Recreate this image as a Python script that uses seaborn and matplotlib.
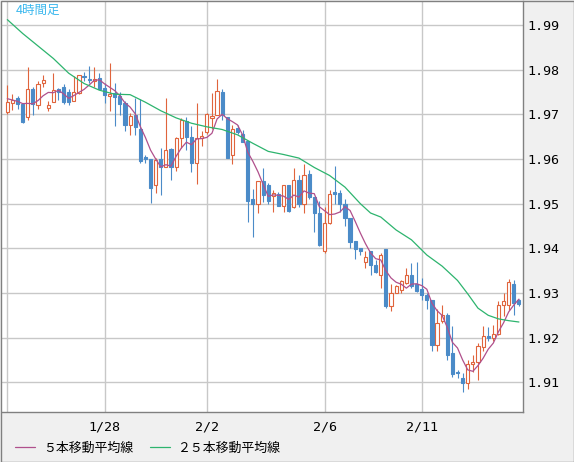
import numpy as np
import pandas as pd
import matplotlib
matplotlib.use("Agg")
import matplotlib.pyplot as plt
import seaborn as sns
from matplotlib.patches import Rectangle

# 4h candles (index 0..100)
opens = [1.9705, 1.9726, 1.9737, 1.9724, 1.9694, 1.9757, 1.9720, 1.9771, 1.9714, 1.9728,
         1.9756, 1.9762, 1.9750, 1.9729, 1.9748, 1.9786, 1.9780, 1.9774, 1.9782, 1.9758,
         1.9740, 1.9748, 1.9741, 1.9726, 1.9677, 1.9699, 1.9667, 1.9604, 1.9599, 1.9541,
         1.9599, 1.9583, 1.9623, 1.9581, 1.9647, 1.9686, 1.9650, 1.9592, 1.9647, 1.9660,
         1.9692, 1.9699, 1.9751, 1.9695, 1.9610, 1.9670, 1.9655, 1.9640, 1.9510, 1.9500,
         1.9550, 1.9541, 1.9517, 1.9522, 1.9495, 1.9541, 1.9493, 1.9554, 1.9500, 1.9567,
         1.9515, 1.9478, 1.9393, 1.9456, 1.9527, 1.9524, 1.9500, 1.9467, 1.9416, 1.9400,
         1.9370, 1.9393, 1.9363, 1.9341, 1.9399, 1.9271, 1.9301, 1.9306, 1.9322, 1.9341,
         1.9320, 1.9309, 1.9296, 1.9284, 1.9184, 1.9237, 1.9251, 1.9165, 1.9124, 1.9109,
         1.9099, 1.9140, 1.9145, 1.9179, 1.9203, 1.9200, 1.9209, 1.9272, 1.9274, 1.9321,
         1.9285]
highs = [1.9765, 1.9746, 1.9740, 1.9724, 1.9805, 1.9762, 1.9774, 1.9789, 1.9729, 1.9793,
         1.9759, 1.9767, 1.9756, 1.9786, 1.9789, 1.9795, 1.9808, 1.9805, 1.9793, 1.9770,
         1.9814, 1.9770, 1.9750, 1.9729, 1.9703, 1.9737, 1.9735, 1.9609, 1.9599, 1.9602,
         1.9624, 1.9737, 1.9624, 1.9650, 1.9692, 1.9695, 1.9673, 1.9726, 1.9662, 1.9703,
         1.9748, 1.9779, 1.9757, 1.9695, 1.9675, 1.9675, 1.9665, 1.9640, 1.9532, 1.9550,
         1.9579, 1.9547, 1.9530, 1.9526, 1.9541, 1.9541, 1.9579, 1.9564, 1.9588, 1.9575,
         1.9515, 1.9507, 1.9493, 1.9530, 1.9585, 1.9530, 1.9511, 1.9467, 1.9416, 1.9400,
         1.9393, 1.9393, 1.9374, 1.9389, 1.9399, 1.9321, 1.9318, 1.9329, 1.9357, 1.9367,
         1.9369, 1.9333, 1.9299, 1.9285, 1.9263, 1.9274, 1.9255, 1.9225, 1.9127, 1.9121,
         1.9150, 1.9160, 1.9188, 1.9226, 1.9224, 1.9228, 1.9281, 1.9300, 1.9331, 1.9330,
         1.9286]
lows = [1.9700, 1.9709, 1.9711, 1.9680, 1.9688, 1.9699, 1.9711, 1.9762, 1.9708, 1.9728,
        1.9733, 1.9723, 1.9720, 1.9729, 1.9746, 1.9774, 1.9771, 1.9762, 1.9756, 1.9725,
        1.9707, 1.9673, 1.9699, 1.9662, 1.9654, 1.9654, 1.9590, 1.9590, 1.9502, 1.9524,
        1.9520, 1.9583, 1.9553, 1.9572, 1.9624, 1.9620, 1.9571, 1.9545, 1.9628, 1.9656,
        1.9666, 1.9699, 1.9687, 1.9603, 1.9588, 1.9657, 1.9639, 1.9460, 1.9425, 1.9480,
        1.9504, 1.9500, 1.9481, 1.9495, 1.9481, 1.9481, 1.9490, 1.9493, 1.9478, 1.9510,
        1.9436, 1.9405, 1.9390, 1.9454, 1.9500, 1.9481, 1.9450, 1.9400, 1.9376, 1.9385,
        1.9356, 1.9341, 1.9344, 1.9311, 1.9267, 1.9259, 1.9299, 1.9301, 1.9319, 1.9311,
        1.9303, 1.9284, 1.9264, 1.9171, 1.9171, 1.9232, 1.9150, 1.9112, 1.9109, 1.9078,
        1.9084, 1.9124, 1.9105, 1.9171, 1.9193, 1.9193, 1.9206, 1.9249, 1.9262, 1.9251,
        1.9270]
closes = [1.9727, 1.9732, 1.9723, 1.9683, 1.9757, 1.9723, 1.9768, 1.9777, 1.9720, 1.9754,
          1.9750, 1.9728, 1.9727, 1.9751, 1.9789, 1.9784, 1.9777, 1.9780, 1.9756, 1.9744,
          1.9746, 1.9739, 1.9722, 1.9677, 1.9697, 1.9671, 1.9596, 1.9599, 1.9536, 1.9598,
          1.9583, 1.9620, 1.9583, 1.9647, 1.9688, 1.9650, 1.9592, 1.9647, 1.9652, 1.9700,
          1.9697, 1.9752, 1.9699, 1.9603, 1.9667, 1.9660, 1.9639, 1.9507, 1.9500, 1.9550,
          1.9520, 1.9505, 1.9523, 1.9495, 1.9541, 1.9483, 1.9554, 1.9500, 1.9565, 1.9515,
          1.9478, 1.9407, 1.9456, 1.9521, 1.9522, 1.9500, 1.9467, 1.9413, 1.9399, 1.9393,
          1.9381, 1.9363, 1.9348, 1.9385, 1.9271, 1.9301, 1.9315, 1.9326, 1.9341, 1.9316,
          1.9305, 1.9295, 1.9285, 1.9184, 1.9233, 1.9251, 1.9161, 1.9118, 1.9121, 1.9099,
          1.9140, 1.9145, 1.9182, 1.9203, 1.9200, 1.9209, 1.9272, 1.9282, 1.9325, 1.9277,
          1.9275]

# first 4 points of the 5-bar average (needs bars before the window)
ma5_head = [1.9735, 1.9732, 1.9729, 1.9724]

# 25-bar average, read at these bars
ma25_at = [0, 3, 6, 9, 12, 15, 18, 21, 24, 27, 30, 33, 36, 39, 42, 45, 48, 51, 54, 57,
           60, 63, 66, 69, 71, 73, 76, 79, 82, 85, 88, 90, 92, 94, 96, 98, 100]
ma25 = [1.9912, 1.9881, 1.9853, 1.9825, 1.9792, 1.9769, 1.9754, 1.9745, 1.9744, 1.9727,
        1.9708, 1.9692, 1.9680, 1.9672, 1.9666, 1.9654, 1.9635, 1.9617, 1.9610, 1.9602,
        1.9581, 1.9563, 1.9537, 1.9500, 1.9479, 1.9470, 1.9441, 1.9419, 1.9385, 1.9360,
        1.9328, 1.9298, 1.9266, 1.9250, 1.9242, 1.9238, 1.9235]

date_ticks = [19, 39, 62, 81]
date_labels = ["1/28", "2/2", "2/6", "2/11"]
price_ticks = [1.91, 1.92, 1.93, 1.94, 1.95, 1.96, 1.97, 1.98, 1.99]

BULL = "#e0643c"
BEAR = "#4b8bc8"
MA5_COL = "#b0508c"
MA25_COL = "#2db46e"
GRID = "#c8c8c8"

df = pd.DataFrame({"open": opens, "high": highs, "low": lows, "close": closes})
df["bar"] = np.arange(len(df))
ma5 = df["close"].rolling(5).mean()
ma5.iloc[:4] = ma5_head
df["ma5"] = ma5
ma25_df = pd.DataFrame({"bar": ma25_at, "ma25": ma25})

sns.set_style("white")
plt.rcParams["font.family"] = ["DejaVu Sans Mono"]
plt.rcParams["text.color"] = "black"

fig = plt.figure(figsize=(5.74, 4.62), dpi=100, facecolor="#f0f0f0")
ax = fig.add_axes([2 / 574, 1 - 412 / 462, 521 / 574, 411 / 462])
ax.set_facecolor("white")

# grid
for p in price_ticks:
    ax.axhline(p, color=GRID, lw=1.0, zorder=0)
for b in [0] + date_ticks:
    ax.axvline(b, color=GRID, lw=1.0, zorder=0)

# candles
up = df["close"] >= df["open"]
for is_up, col, face in [(True, BULL, "white"), (False, BEAR, BEAR)]:
    d = df[up == is_up]
    ax.vlines(d["bar"], d["low"], d["high"], color=col, lw=0.8, zorder=2)
    lo = d[["open", "close"]].min(axis=1)
    hi = d[["open", "close"]].max(axis=1)
    ax.bar(d["bar"], hi - lo, bottom=lo, width=0.62, facecolor=face,
           edgecolor=col, linewidth=0.8, zorder=3)

# moving averages
sns.lineplot(data=df, x="bar", y="ma5", color=MA5_COL, lw=0.9, ax=ax,
             label="５本移動平均線", zorder=4)
sns.lineplot(data=ma25_df, x="bar", y="ma25", color=MA25_COL, lw=0.9, ax=ax,
             label="２５本移動平均線", zorder=4)

ax.set_xlim(-1.04, 100.8)
ax.set_ylim(1.90335, 1.99537)
ax.set_xlabel("")
ax.set_ylabel("")

ax.yaxis.tick_right()
ax.set_yticks(price_ticks)
ax.set_yticklabels([f"{p:.2f}" for p in price_ticks])
ax.set_xticks(date_ticks)
ax.set_xticklabels(date_labels)
ax.tick_params(axis="y", length=0, pad=3, labelsize=9.6, colors="black")
ax.tick_params(axis="x", length=0, pad=6, labelsize=9.6, colors="black")

for side in ["top", "left"]:
    ax.spines[side].set_visible(False)
for side in ["right", "bottom"]:
    ax.spines[side].set_color("#808080")
    ax.spines[side].set_linewidth(1.0)

ax.text(0.026, 0.977, "4時間足", transform=ax.transAxes, ha="left", va="center",
        color="#3cb8ee", fontsize=9, family=["Noto Sans CJK JP", "DejaVu Sans"])

leg = ax.legend(loc="center left", bbox_to_anchor=(15 / 574, 14 / 462),
                bbox_transform=fig.transFigure, ncol=2, frameon=False,
                handlelength=1.55, handletextpad=0.6, columnspacing=1.3,
                borderaxespad=0, borderpad=0,
                prop={"family": ["Noto Sans CJK JP", "DejaVu Sans"], "size": 9.3})
for t in leg.get_texts():
    t.set_color("black")

# outer frame
fig.add_artist(Rectangle((0.5 / 574, 0.5 / 462), 573 / 574, 461 / 462,
                         transform=fig.transFigure, fill=False,
                         edgecolor="#808080", lw=1.0))

fig.savefig("out.png", dpi=100, facecolor=fig.get_facecolor())
